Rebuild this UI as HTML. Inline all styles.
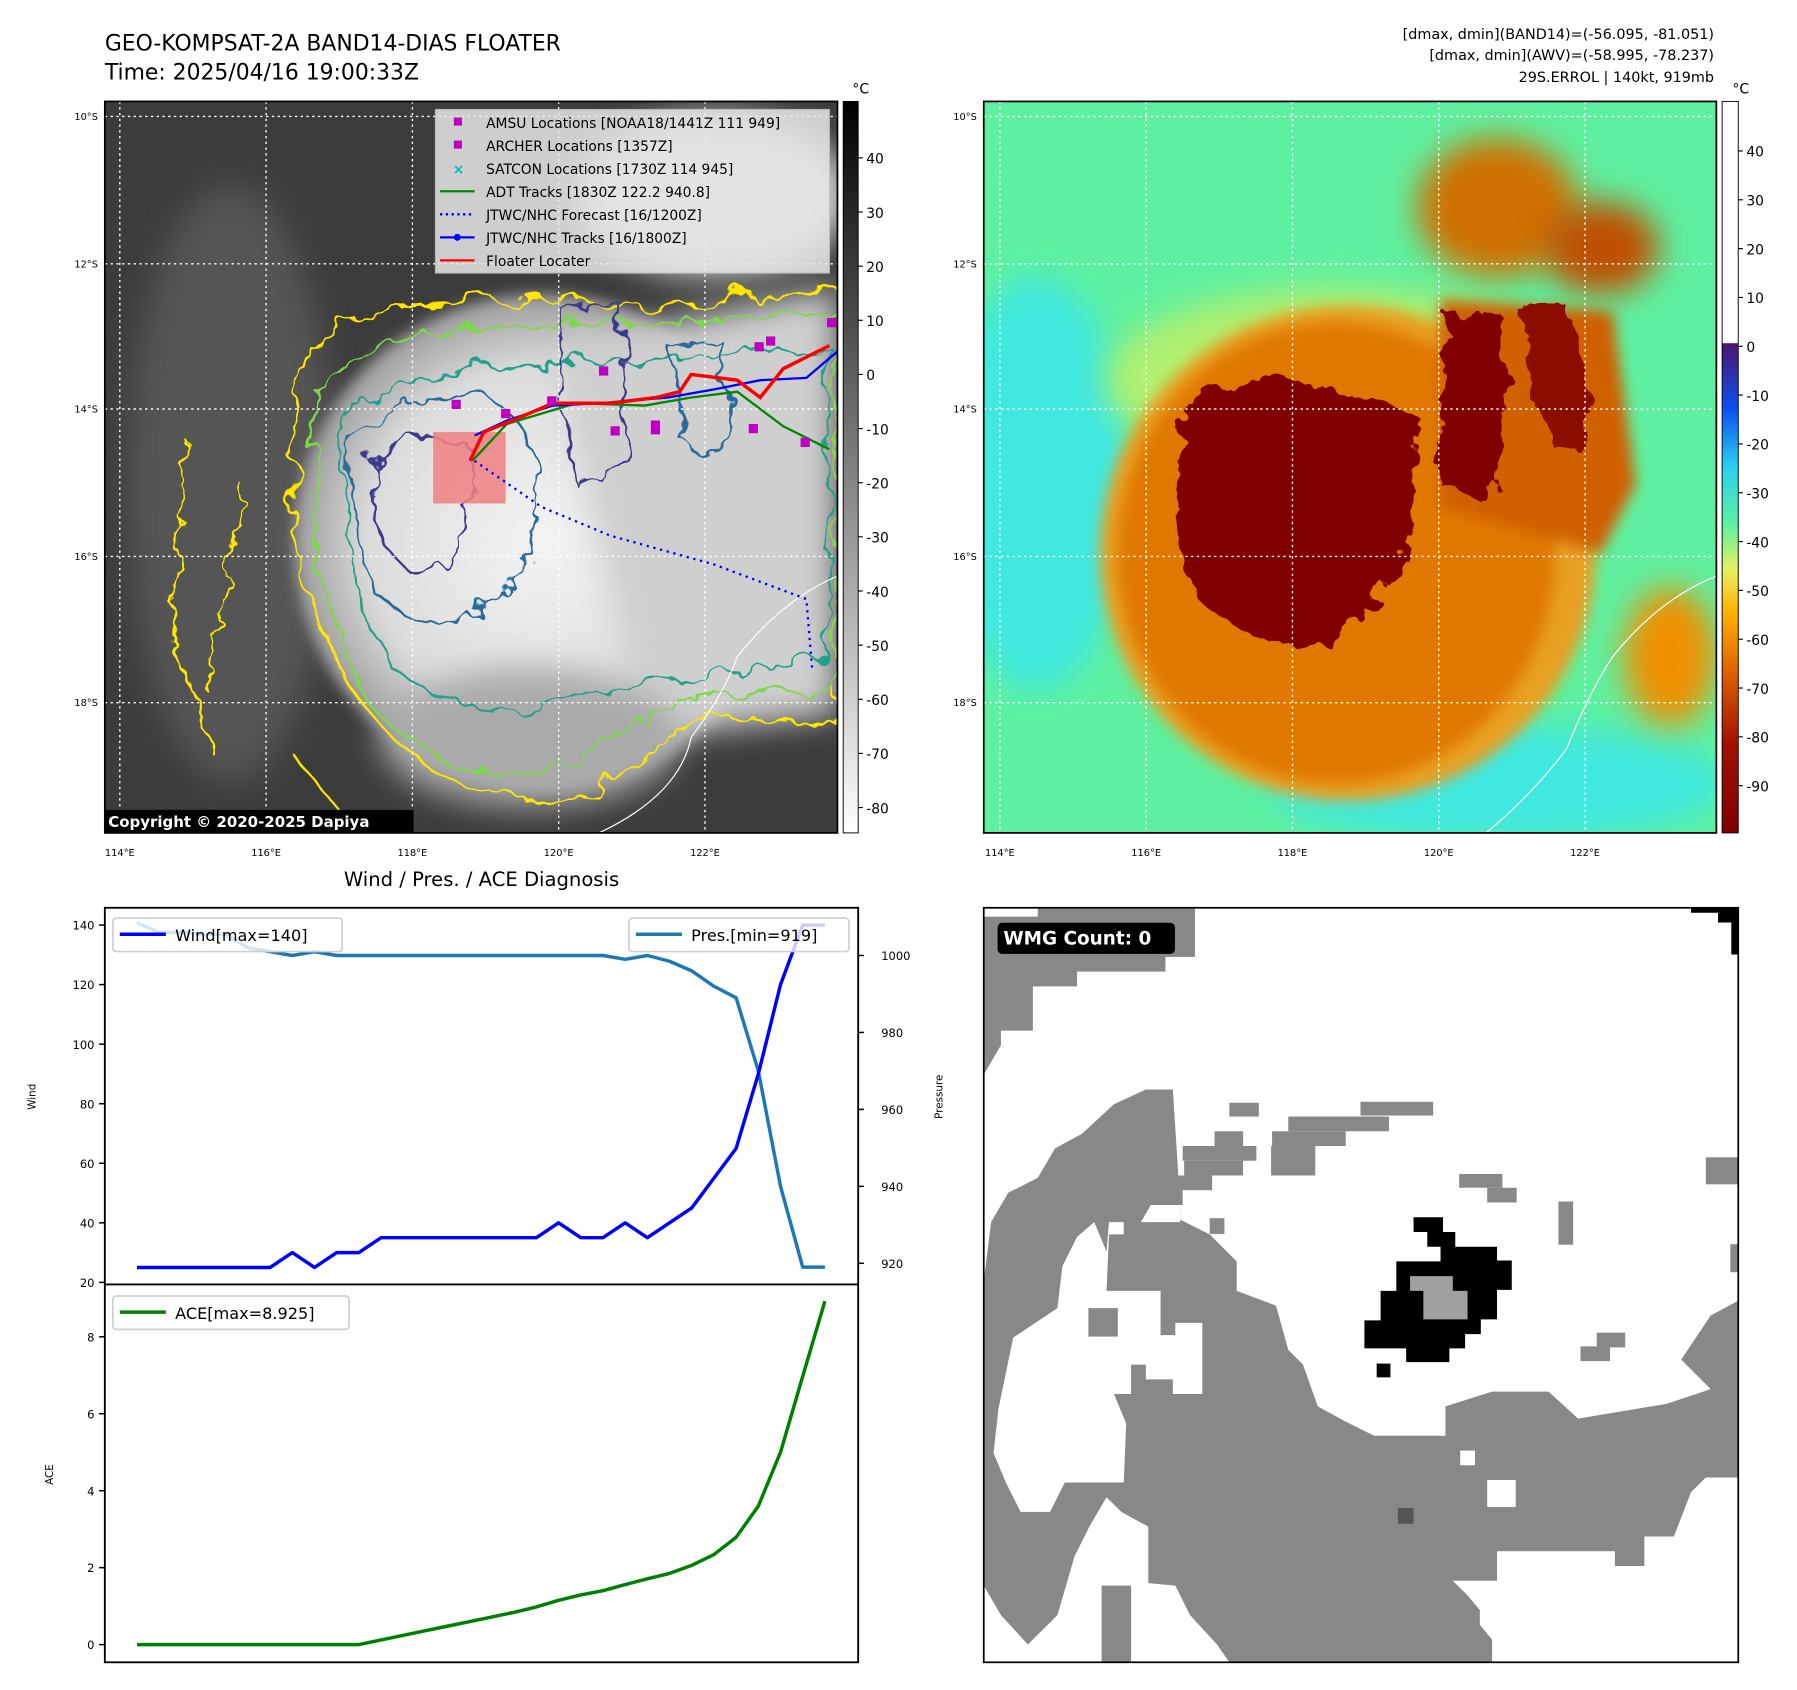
<!DOCTYPE html>
<html><head><meta charset="utf-8"><style>
html,body{margin:0;padding:0;background:#fff}
svg{display:block}
text{font-family:"DejaVu Sans","Liberation Sans",sans-serif}
</style></head><body>
<svg id="fig" width="1797" height="1690" viewBox="0 0 1560 1467" xmlns="http://www.w3.org/2000/svg">
<defs>
<filter id="wob" x="-30%" y="-30%" width="160%" height="160%"><feTurbulence type="fractalNoise" baseFrequency="0.035" numOctaves="3" seed="3"/><feDisplacementMap in="SourceGraphic" scale="28"/></filter>
<filter id="wob2" x="-30%" y="-30%" width="160%" height="160%"><feTurbulence type="fractalNoise" baseFrequency="0.05" numOctaves="3" seed="7"/><feDisplacementMap in="SourceGraphic" scale="22"/></filter>
<filter id="blur" x="-60%" y="-60%" width="220%" height="220%"><feGaussianBlur stdDeviation="14"/></filter>
<filter id="blur2" x="-40%" y="-40%" width="180%" height="180%"><feGaussianBlur stdDeviation="6"/></filter>
<radialGradient id="cloudg" cx="0.5" cy="0.5" r="0.5"><stop offset="0" stop-color="#f4f4f4"/><stop offset="0.7" stop-color="#dcdcdc"/><stop offset="1" stop-color="#9a9a9a"/></radialGradient>
<linearGradient id="cbgray" x1="0" y1="0" x2="0" y2="1"><stop offset="0" stop-color="#000"/><stop offset="1" stop-color="#fff"/></linearGradient>
<linearGradient id="cbjet" x1="0" y1="0" x2="0" y2="1">
<stop offset="0" stop-color="#fff"/><stop offset="0.33" stop-color="#fff"/><stop offset="0.331" stop-color="#4b1470"/>
<stop offset="0.42" stop-color="#0a50f0"/><stop offset="0.50" stop-color="#2ad0f0"/><stop offset="0.58" stop-color="#60f0a0"/>
<stop offset="0.64" stop-color="#e8f060"/><stop offset="0.70" stop-color="#ffb000"/><stop offset="0.78" stop-color="#e06000"/>
<stop offset="0.88" stop-color="#a01000"/><stop offset="1" stop-color="#800000"/></linearGradient>
<clipPath id="clipL"><rect x="91" y="88" width="636" height="635"/></clipPath>
<clipPath id="clipR"><rect x="854" y="88" width="636" height="635"/></clipPath>
</defs>

<text x="91" y="44" font-size="19">GEO-KOMPSAT-2A BAND14-DIAS FLOATER</text>
<text x="91" y="69" font-size="19">Time: 2025/04/16 19:00:33Z</text>
<text x="1488" y="34" font-size="12.5" text-anchor="end">[dmax, dmin](BAND14)=(-56.095, -81.051)</text>
<text x="1488" y="52" font-size="12.5" text-anchor="end">[dmax, dmin](AWV)=(-58.995, -78.237)</text>
<text x="1488" y="71" font-size="12.5" text-anchor="end">29S.ERROL | 140kt, 919mb</text>

<g clip-path="url(#clipL)">
<rect x="91" y="88" width="636" height="635" fill="#3c3c3c"/>
<ellipse cx="200" cy="420" rx="90" ry="260" fill="#555" filter="url(#blur)"/>
<ellipse cx="620" cy="170" rx="120" ry="70" fill="#c8c8c8" filter="url(#blur)"/>
<ellipse cx="470" cy="470" rx="215" ry="215" fill="url(#cloudg)" filter="url(#blur2)"/>
<path d="M480 300 L727 250 L727 620 L560 640 Z" fill="#cfcfcf" filter="url(#blur)"/>
<ellipse cx="460" cy="640" rx="130" ry="60" fill="#aaa" filter="url(#blur)"/>
<g fill="none" stroke-width="2" filter="url(#wob)">
<path d="M255 330 Q300 260 400 262 Q480 250 530 270 L600 265 L727 250 L727 630 L620 620 Q560 640 520 690 Q420 710 340 640 Q265 560 255 440 Z" stroke="#ffe600"/>
<path d="M275 340 Q320 290 400 285 L600 280 L727 270 L727 600 L620 600 Q540 630 480 670 Q380 680 320 610 Q275 530 275 430 Z" stroke="#7ed84a"/>
<path d="M295 360 Q340 320 420 318 L600 310 L720 300 L720 570 Q600 590 520 600 Q420 640 340 580 Q295 500 300 420 Z" stroke="#20a08a"/>
<path d="M305 380 Q350 340 420 345 Q460 360 470 420 Q470 480 430 520 Q380 560 330 520 Q300 460 305 380 Z" stroke="#2a6a9a"/>
<path d="M320 400 Q360 370 400 380 Q420 420 400 470 Q370 520 340 480 Q320 440 320 400 Z" stroke="#3a3a8a"/>
<path d="M490 270 L540 265 L545 400 L500 420 L485 340 Z" stroke="#3a3a8a"/>
<path d="M580 300 L620 290 L640 380 L600 390 Z" stroke="#2a6a9a"/>
</g>
<g fill="none" stroke="#ffe600" stroke-width="2" filter="url(#wob2)">
<path d="M160 380 L150 560 L190 660"/><path d="M210 420 L180 600"/><path d="M250 650 L300 710"/>
</g>
<path d="M520 723 Q590 690 600 640 Q630 600 640 570 Q680 520 727 500" fill="none" stroke="#fff" stroke-width="1"/>
<g stroke="#fff" stroke-width="1.2" stroke-dasharray="2,3" fill="none">
<line x1="104" y1="88" x2="104" y2="723"/><line x1="231" y1="88" x2="231" y2="723"/><line x1="358" y1="88" x2="358" y2="723"/><line x1="485" y1="88" x2="485" y2="723"/><line x1="612" y1="88" x2="612" y2="723"/>
<line x1="91" y1="101" x2="727" y2="101"/><line x1="91" y1="229" x2="727" y2="229"/><line x1="91" y1="355" x2="727" y2="355"/><line x1="91" y1="483" x2="727" y2="483"/><line x1="91" y1="610" x2="727" y2="610"/>
</g>
<rect x="376" y="375" width="63" height="62" fill="#f08080" opacity="0.85"/>
<polyline points="412,400 470,440 530,465 620,490 700,520 705,580" fill="none" stroke="#00f" stroke-width="2" stroke-dasharray="2,4"/>
<polyline points="410,400 440,368 500,350 560,352 600,345 640,340 680,370 720,390" fill="none" stroke="#080" stroke-width="2"/>
<polyline points="412,378 440,365 480,352 520,350 580,345 620,338 660,330 700,328 727,305" fill="none" stroke="#00f" stroke-width="2"/>
<polyline points="408,400 420,375 445,365 480,350 530,350 570,345 590,340 600,325 640,330 660,345 680,320 720,300" fill="none" stroke="#f00" stroke-width="3"/>
<g fill="#c000c0"><rect x="392" y="347" width="8" height="8"/><rect x="435" y="355" width="8" height="8"/><rect x="475" y="344" width="8" height="8"/><rect x="520" y="318" width="8" height="8"/><rect x="565" y="365" width="8" height="12"/><rect x="530" y="370" width="8" height="8"/><rect x="655" y="297" width="8" height="8"/><rect x="665" y="292" width="8" height="8"/><rect x="650" y="368" width="8" height="8"/><rect x="695" y="380" width="8" height="8"/><rect x="718" y="276" width="8" height="8"/></g>
<rect x="378" y="95" width="342" height="142" fill="#e8e8e8" opacity="0.85" stroke="#ccc"/>
<g font-size="12" fill="#000">
<rect x="394" y="102" width="7" height="7" fill="#c000c0"/><text x="422" y="111">AMSU Locations [NOAA18/1441Z 111 949]</text>
<rect x="394" y="122" width="7" height="7" fill="#c000c0"/><text x="422" y="131">ARCHER Locations [1357Z]</text>
<text x="393" y="151" fill="#00c0c0" font-size="12" font-weight="bold">×</text><text x="422" y="151">SATCON Locations [1730Z 114 945]</text>
<line x1="382" y1="166" x2="412" y2="166" stroke="#080" stroke-width="2"/><text x="422" y="171">ADT Tracks [1830Z 122.2 940.8]</text>
<line x1="382" y1="186" x2="412" y2="186" stroke="#00f" stroke-width="2" stroke-dasharray="2,3"/><text x="422" y="191">JTWC/NHC Forecast [16/1200Z]</text>
<line x1="382" y1="206" x2="412" y2="206" stroke="#00f" stroke-width="2"/><circle cx="397" cy="206" r="3" fill="#00f"/><text x="422" y="211">JTWC/NHC Tracks [16/1800Z]</text>
<line x1="382" y1="226" x2="412" y2="226" stroke="#f00" stroke-width="2"/><text x="422" y="231">Floater Locater</text>
</g>
<rect x="89" y="703" width="270" height="20" fill="#000"/>
<text x="94" y="718" font-size="13" font-weight="bold" fill="#fff">Copyright © 2020-2025 Dapiya</text>
</g>
<rect x="91" y="88" width="636" height="635" fill="none" stroke="#000" stroke-width="1.5"/>
<rect x="732" y="88" width="13" height="635" fill="url(#cbgray)" stroke="#000" stroke-width="0.8"/>
<text x="740" y="81" font-size="12">°C</text>
<g id="cbL" font-size="12"></g>

<g clip-path="url(#clipR)">
<rect x="854" y="88" width="636" height="635" fill="#5ef0a0"/>
<ellipse cx="900" cy="420" rx="80" ry="180" fill="#40e8e0" filter="url(#blur)"/>
<ellipse cx="1300" cy="680" rx="200" ry="50" fill="#40e8e0" filter="url(#blur)"/>
<ellipse cx="1160" cy="330" rx="200" ry="80" fill="#b0f070" filter="url(#blur)"/>
<ellipse cx="1170" cy="480" rx="215" ry="215" fill="#e8a020" filter="url(#blur2)"/>
<ellipse cx="1160" cy="480" rx="190" ry="200" fill="#e07800" filter="url(#blur2)"/>
<path d="M1250 260 L1400 270 L1420 420 L1390 480 L1250 440 Z" fill="#d06000" filter="url(#blur2)"/>
<ellipse cx="1300" cy="180" rx="70" ry="60" fill="#d07000" filter="url(#blur)"/>
<ellipse cx="1390" cy="215" rx="50" ry="40" fill="#c05000" filter="url(#blur)"/>
<ellipse cx="1450" cy="570" rx="40" ry="60" fill="#f09000" filter="url(#blur)"/>
<path d="M1030 350 Q1060 330 1110 330 Q1180 340 1230 360 L1225 470 Q1200 530 1150 560 Q1080 560 1040 520 Q1010 460 1030 350 Z" fill="#800000" filter="url(#wob2)"/>
<path d="M1255 275 L1300 270 L1310 330 L1300 420 L1280 430 L1250 420 L1250 340 Z" fill="#800000" filter="url(#wob2)"/>
<path d="M1320 270 L1360 265 L1380 330 L1375 395 L1350 390 L1330 340 Z" fill="#8a0800" filter="url(#wob2)"/>
<path d="M1290 723 Q1330 690 1360 650 Q1380 600 1400 570 Q1440 520 1490 500" fill="none" stroke="#fff" stroke-width="1"/>
<g stroke="#fff" stroke-width="1.2" stroke-dasharray="2,3" fill="none">
<line x1="868" y1="88" x2="868" y2="723"/><line x1="995" y1="88" x2="995" y2="723"/><line x1="1122" y1="88" x2="1122" y2="723"/><line x1="1249" y1="88" x2="1249" y2="723"/><line x1="1376" y1="88" x2="1376" y2="723"/>
<line x1="854" y1="101" x2="1490" y2="101"/><line x1="854" y1="229" x2="1490" y2="229"/><line x1="854" y1="355" x2="1490" y2="355"/><line x1="854" y1="483" x2="1490" y2="483"/><line x1="854" y1="610" x2="1490" y2="610"/>
</g>
</g>
<rect x="854" y="88" width="636" height="635" fill="none" stroke="#000" stroke-width="1.5"/>
<rect x="1495" y="88" width="14" height="635" fill="url(#cbjet)" stroke="#000" stroke-width="0.8"/>
<text x="1504" y="81" font-size="12">°C</text>
<g id="cbR" font-size="12"></g>
<g id="mapTicks" font-size="8.5"></g>

<text x="418" y="769" font-size="17" text-anchor="middle">Wind / Pres. / ACE Diagnosis</text>
<g id="chart"></g>

<g>
<rect x="854" y="788" width="655" height="655" fill="#fff"/>
<g transform="translate(854,788) scale(0.4264)">
<polygon fill="#888" points="0,0 430,0 430,100 370,100 370,130 190,130 190,160 100,160 100,250 35,250 35,280 0,340"/>
<rect x="0" y="0" width="110" height="18" fill="#fff"/>
<polygon fill="#888" points="0,340 0,1536 1536,1536 1536,800 1480,830 1420,920 1480,980 1390,1010 1210,1040 1150,985 1035,985 940,1015 940,1075 795,1075 735,1045 680,1015 650,930 620,900 595,810 515,780 515,720 460,665 400,635 400,605 385,370 330,370 265,400 200,460 145,490 110,550 50,580 15,640 0,760"/>
<polygon fill="#fff" points="400,605 340,605 320,640 255,640 250,700 225,640 190,670 160,730 150,815 60,875 30,1020 20,1110 45,1170 75,1230 135,1230 165,1170 285,1170 290,1050 265,990 300,990 300,780 360,780 360,870 390,870 390,845 445,845 445,990 385,990 385,960 330,960 330,930 300,930 300,780 250,780 255,665 285,665 285,640 400,640"/>
<polygon fill="#fff" points="0,1380 35,1440 90,1500 150,1440 185,1320 215,1260 250,1200 280,1230 335,1260 335,1375 390,1380 420,1440 475,1500 500,1536 0,1536"/>
<rect x="240" y="1380" width="60" height="156" fill="#888"/>
<polygon fill="#fff" points="1045,1310 1285,1310 1285,1340 1345,1340 1345,1280 1405,1280 1440,1190 1470,1160 1536,1160 1536,1536 1035,1536 1035,1490 1010,1460 1010,1430 985,1400 955,1370 1045,1370"/>
<g fill="#888"><rect x="500" y="397" width="60" height="28"/><rect x="968" y="542" width="88" height="28"/><rect x="1025" y="570" width="60" height="30"/><rect x="1170" y="598" width="30" height="88"/><rect x="1470" y="508" width="66" height="55"/><rect x="460" y="632" width="30" height="32"/><rect x="1248" y="865" width="58" height="30"/><rect x="1215" y="893" width="60" height="30"/><rect x="1520" y="685" width="16" height="57"/>
<rect x="767" y="395" width="148" height="28"/><rect x="620" y="425" width="205" height="30"/><rect x="587" y="455" width="150" height="30"/><rect x="585" y="485" width="90" height="60"/><rect x="405" y="485" width="150" height="30"/><rect x="470" y="455" width="58" height="30"/><rect x="375" y="545" width="90" height="30"/><rect x="408" y="515" width="120" height="30"/><rect x="315" y="575" width="90" height="30"/><rect x="213" y="815" width="60" height="58"/></g>
<rect x="970" y="1105" width="30" height="30" fill="#fff"/><rect x="1025" y="1165" width="58" height="55" fill="#fff"/>
<rect x="843" y="1222" width="32" height="32" fill="#555"/>
<polygon fill="#000" points="875,630 935,630 935,660 960,660 960,690 1045,690 1045,718 1075,718 1075,778 1045,778 1045,838 1012,838 1012,868 980,868 980,897 948,897 948,925 860,925 860,897 775,897 775,840 808,840 808,780 840,780 840,720 930,720 930,690 903,690 903,660 875,660"/>
<polygon fill="#a0a0a0" points="868,750 955,750 955,780 985,780 985,838 895,838 895,780 868,780"/>
<rect x="800" y="928" width="28" height="28" fill="#000"/>
<polygon fill="#000" points="1440,0 1536,0 1536,95 1522,95 1522,30 1495,30 1495,10 1440,10"/>
</g>
<rect x="854" y="788" width="655" height="655" fill="none" stroke="#000" stroke-width="1.5"/>
<rect x="866" y="801" width="154" height="27" rx="4" fill="#000"/>
<text x="871" y="820" font-size="16" font-weight="bold" fill="#fff">WMG Count: 0</text>
</g>

<script>
const NS="http://www.w3.org/2000/svg";
const idx=[0,1,2,3,4,5,6,7,8,9,10,11,12,13,14,15,16,17,18,19,20,21,22,23,24,25,26,27,28,29,30,31];
const wind=[25,25,25,25,25,25,25,30,25,30,30,35,35,35,35,35,35,35,35,40,35,35,40,35,40,45,55,65,90,120,140,140];
const pres=[1008.5,1006,1006,1005.5,1005.5,1002,1001,1000,1001,1000,1000,1000,1000,1000,1000,1000,1000,1000,1000,1000,1000,1000,999,1000,998.5,996,992,989,970,940,919,919];
const ace=[0,0,0,0,0,0,0,0,0,0,0,0.12,0.24,0.36,0.48,0.6,0.72,0.84,0.98,1.15,1.29,1.4,1.56,1.71,1.85,2.06,2.34,2.79,3.6,5.0,6.97,8.925];
const windTicks=[20,40,60,80,100,120,140];
const presTicks=[920,940,960,980,1000];
const aceTicks=[0,2,4,6,8];
const cbLTicks=[40,30,20,10,0,-10,-20,-30,-40,-50,-60,-70,-80];
const cbRTicks=[40,30,20,10,0,-10,-20,-30,-40,-50,-60,-70,-80,-90];
const latTicks=["10°S","12°S","14°S","16°S","18°S"];
const lonTicks=["114°E","116°E","118°E","120°E","122°E"];

function mk(tag,attrs,parent,txt){const e=document.createElementNS(NS,tag);for(const k in attrs)e.setAttribute(k,attrs[k]);if(txt!==undefined)e.textContent=txt;parent.appendChild(e);return e;}
const X0=91,X1=745,T0=788,M=1115,B=1443;
const xs=i=>X0+(i+1.45)/33.95*(X1-X0);
const yW=v=>M-(v-19.3)/(145.8-19.3)*(M-T0);
const yP=v=>M-(v-914.5)/(1012.4-914.5)*(M-T0);
const yA=v=>B-(v+0.46)/(9.36+0.46)*(B-M);
const ch=document.getElementById('chart');

function line(vals,yf,color,name){
  const p=mk('polyline',{points:vals.map((v,i)=>xs(idx[i])+','+yf(v)).join(' '),fill:'none',stroke:color,'stroke-width':3,'stroke-linejoin':'round'},ch);
  
  
}
line(pres,yP,'#1f77b4','pressure-line');
line(wind,yW,'#0000ff','wind-line');
line(ace,yA,'#008000','ace-line');

windTicks.forEach(v=>{const y=yW(v);mk('line',{x1:X0-5,x2:X0,y1:y,y2:y,stroke:'#000','stroke-width':1.3},ch);
  const t=mk('text',{x:X0-9,y:y+4,'font-size':10,'text-anchor':'end'},ch,v);});
presTicks.forEach(v=>{const y=yP(v);mk('line',{x1:X1,x2:X1+5,y1:y,y2:y,stroke:'#000','stroke-width':1.3},ch);
  const t=mk('text',{x:X1+20,y:y+4,'font-size':10},ch,v);});
aceTicks.forEach(v=>{const y=yA(v);mk('line',{x1:X0-5,x2:X0,y1:y,y2:y,stroke:'#000','stroke-width':1.3},ch);
  const t=mk('text',{x:X0-9,y:y+4,'font-size':10,'text-anchor':'end'},ch,v);});
mk('rect',{x:X0,y:T0,width:X1-X0,height:B-T0,fill:'none',stroke:'#000','stroke-width':1.6},ch);
mk('line',{x1:X0,x2:X1,y1:M,y2:M,stroke:'#000','stroke-width':1.6},ch);
let l;
l=mk('text',{x:31,y:952,'font-size':9,'text-anchor':'middle',transform:'rotate(-90 31 952)'},ch,'Wind');
l=mk('text',{x:818,y:952,'font-size':9,'text-anchor':'middle',transform:'rotate(-90 818 952)'},ch,'Pressure');
l=mk('text',{x:46,y:1280,'font-size':9,'text-anchor':'middle',transform:'rotate(-90 46 1280)'},ch,'ACE');

function legend(x,y,w,color,label,name){
  const g=mk('g',{},ch);
  
  
  mk('rect',{x:x,y:y,width:w,height:29,rx:3,fill:'#fff','fill-opacity':0.8,stroke:'#d0d0d0','stroke-width':1.5},g);
  mk('line',{x1:x+6,x2:x+46,y1:y+14,y2:y+14,stroke:color,'stroke-width':3},g);
  mk('text',{x:x+54,y:y+20,'font-size':14},g,label);
}
legend(98,797,199,'#0000ff','Wind[max=140]','wind-legend');
legend(546,797,191,'#1f77b4','Pres.[min=919]','pressure-legend');
legend(98,1125,205,'#008000','ACE[max=8.925]','ace-legend');

const cbL=document.getElementById('cbL');
cbLTicks.forEach((v,i)=>{const y=137+i*(701-137)/12;mk('line',{x1:745,x2:749,y1:y,y2:y,stroke:'#000'},cbL);
  const t=mk('text',{x:752,y:y+5},cbL,v);});
const cbR=document.getElementById('cbR');
cbRTicks.forEach((v,i)=>{const y=131+i*(682-131)/13;mk('line',{x1:1509,x2:1513,y1:y,y2:y,stroke:'#000'},cbR);
  const t=mk('text',{x:1516,y:y+5},cbR,v);});
const mt=document.getElementById('mapTicks');
const latY=[101,229,355,483,610],lonXL=[104,231,358,485,612],lonXR=[868,995,1122,1249,1376];
latTicks.forEach((s,i)=>{[85,848].forEach(x=>{const t=mk('text',{x:x,y:latY[i]+3,'text-anchor':'end'},mt,s);});});
lonTicks.forEach((s,i)=>{[lonXL[i],lonXR[i]].forEach(x=>{const t=mk('text',{x:x,y:743,'text-anchor':'middle'},mt,s);});});
</script>
</svg>
</body></html>
